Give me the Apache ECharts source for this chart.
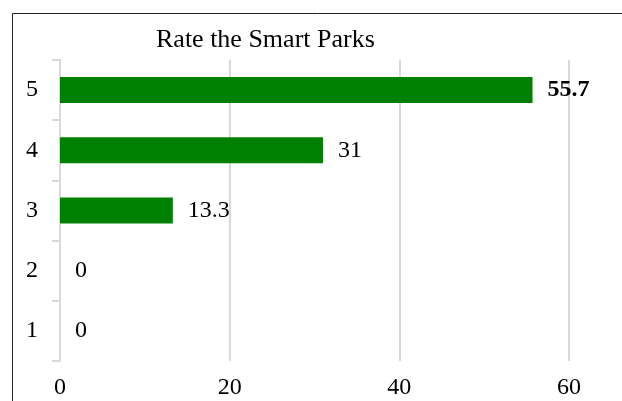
<!DOCTYPE html>
<html>
<head>
<meta charset="utf-8">
<script src="https://cdn.jsdelivr.net/npm/echarts@6/dist/echarts.min.js"></script>
<style>
html,body{margin:0;padding:0;background:#fff;}
#chart{width:622px;height:401px;}
</style>
</head>
<body>
<div id="chart"></div>
<script>
// 数据
var categories = ['1', '2', '3', '4', '5'];
var values = [0, 0, 13.3, 31, 55.7];
var xTicks = [0, 20, 40, 60];

var chart = echarts.init(document.getElementById('chart'));
var font = '"Liberation Serif", "Times New Roman", serif';

var option = {
	animation: false,
	//外框
	graphic: [{
		type: 'rect',
		shape: {x: 12.5, y: 13.5, width: 700, height: 500},
		style: {fill: 'none', stroke: '#222', lineWidth: 1}
	}],
	title: {
		text: 'Rate the Smart Parks',
		left: 151,
		top: 22,
		textStyle: {fontFamily: font, fontSize: 26, fontWeight: 'normal', color: '#000'}
	},
	grid: {left: 60, right: 53, top: 60, bottom: 40},
	xAxis: {
		type: 'value',
		min: xTicks[0],
		max: xTicks[xTicks.length - 1],
		interval: xTicks[1] - xTicks[0],
		axisLine: {show: false},
		axisTick: {show: false},
		splitLine: {lineStyle: {color: '#d9d9d9', width: 2}},
		axisLabel: {fontFamily: font, fontSize: 24, color: '#000', margin: 15}
	},
	yAxis: {
		type: 'category',
		data: categories,
		axisLine: {show: true, lineStyle: {color: '#d9d9d9', width: 2}},
		axisTick: {show: true, length: 8, lineStyle: {color: '#d9d9d9', width: 2}},
		axisLabel: {fontFamily: font, fontSize: 24, color: '#000', margin: 22}
	},
	series: [{
		type: 'bar',
		data: values.map(function (v, i) {
			return {
				value: v,
				label: i === values.length - 1 ? {fontWeight: 'bold'} : {}
			};
		}),
		barWidth: 26,
		itemStyle: {color: '#008000'},
		label: {
			show: true,
			position: 'right',
			distance: 15,
			fontFamily: font,
			fontSize: 24,
			color: '#000'
		}
	}]
};
chart.setOption(option);
</script>
</body>
</html>
